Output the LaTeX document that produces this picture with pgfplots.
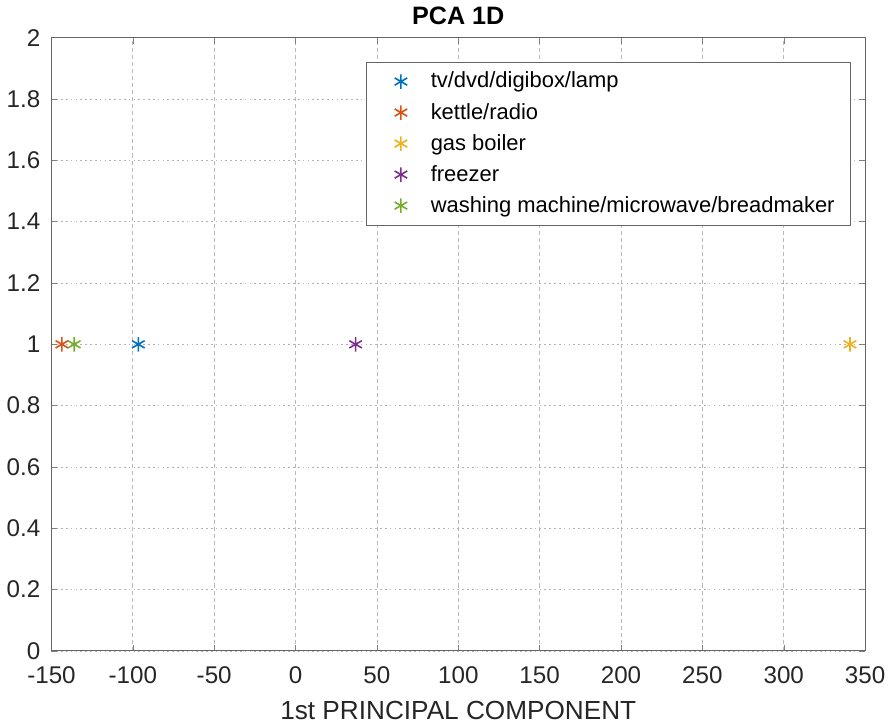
\documentclass[border=0pt]{standalone}
\usepackage{pgfplots}
\pgfplotsset{compat=1.18}
\usepackage{fontspec}
\setmainfont{Liberation Sans}
\definecolor{mblue}{rgb}{0,0.447,0.741}
\definecolor{morange}{rgb}{0.85,0.325,0.098}
\definecolor{myellow}{rgb}{0.929,0.694,0.125}
\definecolor{mpurple}{rgb}{0.494,0.184,0.556}
\definecolor{mgreen}{rgb}{0.466,0.674,0.188}
\begin{document}
\begin{tikzpicture}
\begin{axis}[
  width=404pt, height=304.5pt,
  scale only axis,
  xmin=-150, xmax=350, ymin=0, ymax=2,
  xtick={-150,-100,...,350},
  ytick={0,0.2,...,2.01},
  yticklabel style={/pgf/number format/fixed, xshift=-2pt},
  xticklabel style={yshift=-4pt},
  /pgf/number format/assume math mode=true,
  tick label style={font=\fontsize{12}{14}\selectfont, text=black!85},
  tick align=inside,
  major tick length=3pt,
  axis line style={gray!80!black, line width=0.5pt},
  grid=major,
  x grid style={dash pattern=on 2pt off 1.5pt, gray!55, line width=0.4pt},
  y grid style={dash pattern=on 0.8pt off 1.6pt, gray!60, line width=0.4pt},
  title={\bfseries PCA 1D},
  title style={font=\fontsize{12.5}{14}\selectfont, yshift=-3pt},
  xlabel={1st PRINCIPAL COMPONENT},
  xlabel style={font=\fontsize{13}{15}\selectfont, text=black!85, yshift=-2pt},
  legend style={at={(0.386,0.961)}, anchor=north west,
    draw=gray!80!black, font=\fontsize{10.9}{13}\selectfont,
    row sep=2pt, inner xsep=6pt, inner ysep=3pt},
  legend cell align=left,
  legend image code/.code={\draw[only marks] plot coordinates {(0.4cm,0cm)}; \path[draw=none] (0cm,0cm) -- (0.85cm,0cm);},
  every axis plot/.append style={only marks, mark=asterisk, mark size=3.6pt, line width=0.8pt},
]
\addplot[color=mblue] coordinates {(-96.6,1)};
\addlegendentry{tv/dvd/digibox/lamp}
\addplot[color=morange] coordinates {(-143.6,1)};
\addlegendentry{kettle/radio}
\addplot[color=myellow] coordinates {(340.7,1)};
\addlegendentry{gas boiler}
\addplot[color=mpurple] coordinates {(36.9,1)};
\addlegendentry{freezer}
\addplot[color=mgreen] coordinates {(-136,1)};
\addlegendentry{washing machine/microwave/breadmaker}
\end{axis}
\end{tikzpicture}
\end{document}
